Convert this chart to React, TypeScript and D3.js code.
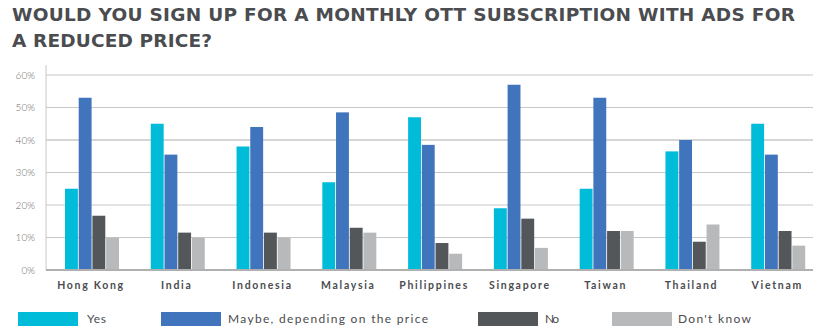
import React from "react";
import * as d3 from "d3";

const categories = ["Hong Kong", "India", "Indonesia", "Malaysia", "Philippines", "Singapore", "Taiwan", "Thailand", "Vietnam"];
const seriesNames = ["Yes", "Maybe, depending on the price", "No", "Don't know"];
const yesValues = [25, 45, 38, 27, 47, 19, 25, 36.5, 45];
const maybeValues = [53, 35.5, 44, 48.5, 38.5, 57, 53, 40, 35.5];
const noValues = [16.7, 11.5, 11.5, 13, 8.3, 15.8, 12, 8.7, 12];
const dontKnowValues = [10, 10, 10, 11.5, 5, 6.8, 12, 14, 7.5];
const yTicks = [0, 10, 20, 30, 40, 50, 60];
const colors = ["#00bcd9", "#4074bd", "#53575a", "#b8b9ba"];
const titleLines = ["WOULD YOU SIGN UP FOR A MONTHLY OTT SUBSCRIPTION WITH ADS FOR", "A REDUCED PRICE?"];

const seriesValues = [yesValues, maybeValues, noValues, dontKnowValues];

export default function App() {
  const W = 834, H = 334;
  const left = 46, right = 818, top = 75, bottom = 270;
  const x0 = d3.scaleBand<string>().domain(categories).range([left, right]).padding(0);
  const x1 = d3.scaleBand<string>().domain(seriesNames).range([19, 73]).paddingInner(0.06);
  const y = d3.scaleLinear().domain([0, 60]).range([bottom, top]);

  const legendX = [18, 161, 478, 612];
  const legendTextX = [87, 228, 545, 678];
  const legendTextLen = [19, 200, 14, 73];

  return (
    <svg width={W} height={H} style={{ position: "absolute", left: 0, top: 0, background: "#fff" }}>
      <text x={12} y={21} fontFamily="DejaVu Sans" fontWeight="bold" fontSize={18.5} fill="#4a4c4f" textLength={783} lengthAdjust="spacing">{titleLines[0]}</text>
      <text x={12} y={47} fontFamily="DejaVu Sans" fontWeight="bold" fontSize={18.5} fill="#4a4c4f" textLength={200} lengthAdjust="spacing">{titleLines[1]}</text>

      {yTicks.map((t) => (
        <g key={t}>
          {t > 0 && <line x1={left} x2={813} y1={y(t)} y2={y(t)} stroke="#c8c8c8" strokeWidth={t === 40 ? 1.5 : 1} />}
          <text x={35} y={y(t) + 3.5} textAnchor="end" fontFamily="Lato" fontWeight={300} fontSize={10} fill="#6a6a6a">{t}%</text>
        </g>
      ))}
      <line x1={left} x2={left} y1={65} y2={bottom} stroke="#c8c8c8" strokeWidth={1} />

      {categories.map((c, i) => (
        <g key={c} transform={`translate(${x0(c)},0)`}>
          {seriesNames.map((s, j) => (
            <rect key={s} x={x1(s)} y={y(seriesValues[j][i])} width={x1.bandwidth()} height={bottom - y(seriesValues[j][i])} fill={colors[j]} />
          ))}
          <text x={45} y={289} textAnchor="middle" fontFamily="Lato" fontWeight="bold" fontSize={10.5} letterSpacing={1.7} fill="#4a4c4f">{c}</text>
        </g>
      ))}
      <line x1={left} x2={813} y1={bottom} y2={bottom} stroke="#b0b0b0" strokeWidth={2} />

      {seriesNames.map((s, j) => (
        <g key={s}>
          <rect x={legendX[j]} y={312} width={60} height={14} fill={colors[j]} />
          <text x={legendTextX[j]} y={322.5} fontFamily="Lato" fontSize={12} fill="#4a4c4f" textLength={legendTextLen[j]} lengthAdjust="spacing">{s}</text>
        </g>
      ))}
    </svg>
  );
}
